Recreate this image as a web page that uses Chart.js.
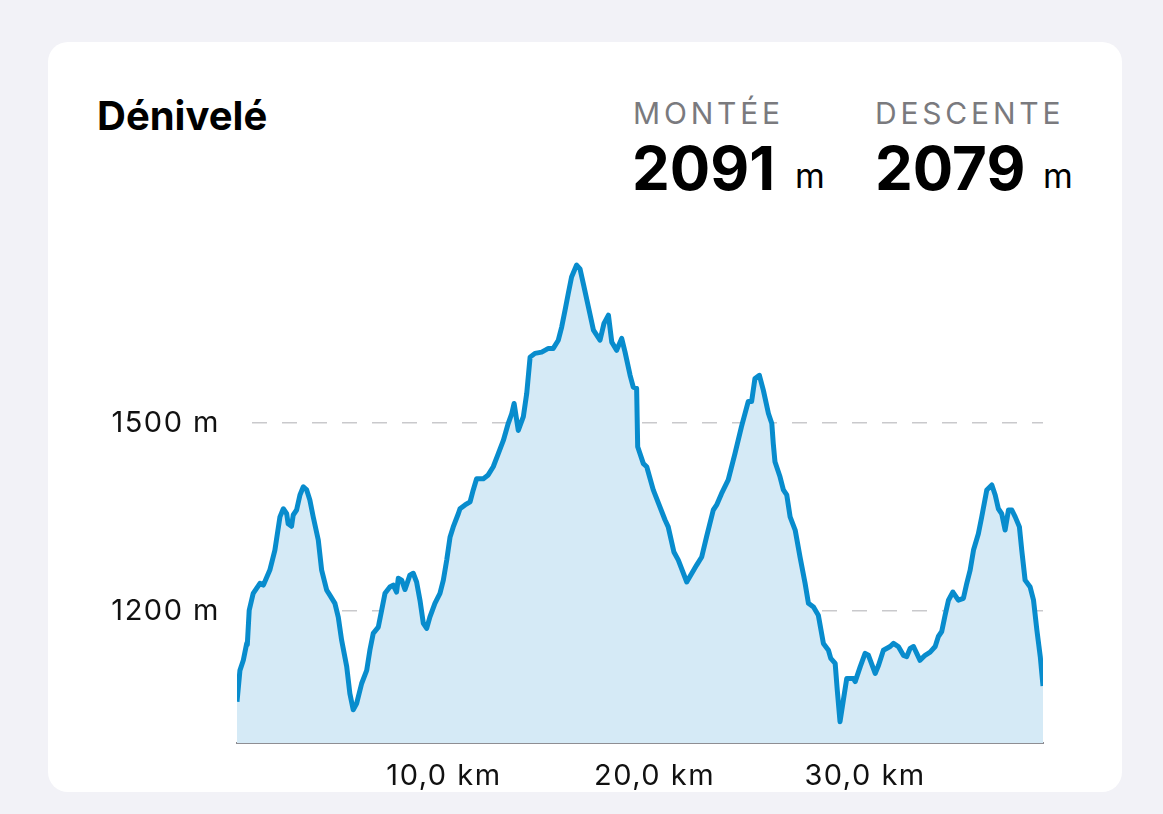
<!DOCTYPE html>
<html>
<head>
<meta charset="utf-8">
<script src="https://cdn.jsdelivr.net/npm/chart.js@4.4.1/dist/chart.umd.min.js"></script>
<style>
  html, body { margin: 0; padding: 0; }
  body { width: 1163px; height: 814px; background: #f2f2f7; position: relative; overflow: hidden; font-family: Inter, "Noto Sans", sans-serif; }
  #card { position: absolute; left: 48px; top: 42px; width: 1074px; height: 750px; background: #fff; border-radius: 20px; }
  .txt { position: absolute; line-height: 1; white-space: nowrap; }
  #title { left: 97px; top: 95.5px; font-size: 40px; font-weight: 700; color: #000; }
  .lab { font-size: 30px; color: #7a7a7e; top: 98px; letter-spacing: 3.8px; }
  .num { font-size: 60px; font-weight: 700; color: #000; top: 138px; }
  .unit { font-size: 34px; color: #000; top: 159px; }
  #chart { position: absolute; left: 0; top: 0; }
</style>
</head>
<body>
<div id="card"></div>
<div class="txt" id="title">Dénivelé</div>
<div class="txt lab" style="left:633px">MONTÉE</div>
<div class="txt num" style="left:632px">2091</div>
<div class="txt unit" style="left:795px">m</div>
<div class="txt lab" style="left:875px">DESCENTE</div>
<div class="txt num" style="left:875px">2079</div>
<div class="txt unit" style="left:1043px">m</div>
<canvas id="chart" width="1163" height="814"></canvas>
<script>
// profil altimétrique : distance (km) et altitude (m)
const distanceKm = [0.17, 0.31, 0.47, 0.63, 0.66, 0.75, 0.94, 1.26, 1.42, 1.73, 1.97, 2.21, 2.37, 2.53, 2.60, 2.76, 2.84, 3.00, 3.16, 3.32, 3.48, 3.63, 3.79, 4.03, 4.19, 4.43, 4.58, 4.82, 4.98, 5.14, 5.38, 5.53, 5.69, 5.85, 6.09, 6.33, 6.48, 6.64, 6.88, 7.04, 7.20, 7.43, 7.59, 7.75, 7.83, 7.99, 8.15, 8.38, 8.54, 8.70, 8.86, 9.02, 9.18, 9.33, 9.57, 9.81, 9.97, 10.13, 10.29, 10.44, 10.68, 10.76, 11.00, 11.24, 11.39, 11.55, 11.87, 12.10, 12.34, 12.58, 12.82, 13.05, 13.22, 13.33, 13.53, 13.77, 13.93, 14.09, 14.32, 14.64, 14.96, 15.19, 15.43, 15.59, 15.75, 15.90, 16.06, 16.30, 16.46, 16.62, 16.86, 17.10, 17.41, 17.60, 17.81, 17.97, 18.20, 18.44, 18.60, 18.84, 18.99, 19.15, 19.20, 19.47, 19.63, 19.94, 20.50, 20.65, 20.92, 21.13, 21.53, 22.00, 22.24, 22.47, 22.79, 22.95, 23.18, 23.50, 23.82, 24.13, 24.45, 24.61, 24.77, 24.98, 25.17, 25.41, 25.57, 25.64, 25.72, 25.96, 26.12, 26.28, 26.44, 26.68, 26.91, 27.15, 27.31, 27.55, 27.78, 28.02, 28.26, 28.37, 28.58, 28.68, 28.81, 28.97, 29.13, 29.45, 29.53, 29.77, 30.00, 30.16, 30.48, 30.64, 30.87, 31.19, 31.35, 31.58, 31.82, 31.98, 32.14, 32.30, 32.61, 32.85, 33.09, 33.33, 33.48, 33.64, 33.80, 33.96, 34.17, 34.43, 34.67, 34.83, 34.99, 35.15, 35.38, 35.54, 35.78, 36.02, 36.18, 36.33, 36.49, 36.65, 36.81, 36.97, 37.13, 37.33, 37.44, 37.60, 37.84, 38.00, 38.16, 38.32, 38.45];
const elevationM = [1055, 1105, 1121, 1148, 1146, 1201, 1228, 1244, 1241, 1265, 1297, 1350, 1363, 1355, 1339, 1335, 1353, 1361, 1385, 1398, 1393, 1377, 1350, 1313, 1265, 1233, 1225, 1212, 1190, 1153, 1111, 1068, 1042, 1052, 1084, 1105, 1137, 1164, 1174, 1201, 1228, 1238, 1241, 1230, 1252, 1249, 1234, 1257, 1260, 1246, 1217, 1180, 1172, 1190, 1212, 1228, 1249, 1281, 1318, 1334, 1355, 1363, 1369, 1374, 1393, 1411, 1411, 1417, 1430, 1451, 1472, 1499, 1515, 1531, 1488, 1510, 1547, 1605, 1611, 1613, 1619, 1619, 1632, 1653, 1680, 1706, 1733, 1752, 1746, 1722, 1685, 1648, 1632, 1659, 1672, 1629, 1616, 1635, 1613, 1576, 1557, 1555, 1462, 1435, 1430, 1393, 1345, 1334, 1294, 1281, 1246, 1273, 1286, 1318, 1361, 1369, 1387, 1409, 1451, 1494, 1534, 1534, 1571, 1576, 1552, 1515, 1499, 1467, 1438, 1414, 1393, 1385, 1350, 1329, 1286, 1244, 1212, 1206, 1193, 1148, 1137, 1124, 1116, 1073, 1023, 1058, 1092, 1092, 1087, 1111, 1132, 1129, 1100, 1113, 1137, 1143, 1148, 1143, 1129, 1127, 1140, 1143, 1121, 1129, 1134, 1143, 1159, 1167, 1193, 1217, 1230, 1217, 1220, 1244, 1265, 1297, 1323, 1350, 1393, 1401, 1385, 1363, 1355, 1329, 1361, 1361, 1350, 1334, 1297, 1249, 1238, 1217, 1169, 1127, 1080];
const kmTicks = [10, 20, 30];
const altTicks = [1200, 1500];

const points = distanceKm.map((d, i) => ({ x: d, y: elevationM[i] }));
const tickFont = { family: 'Inter', size: 29 };

// un peu d'interlettrage comme sur l'original
const spacing = {
  id: 'spacing',
  beforeDraw(chart) { chart.ctx.letterSpacing = '1.5px'; }
};

new Chart(document.getElementById('chart'), {
  type: 'line',
  data: {
    datasets: [{
      data: points,
      borderColor: '#088ccd',
      backgroundColor: '#d5eaf6',
      borderWidth: 5,
      borderJoinStyle: 'round',
      fill: 'start',
      tension: 0,
      pointRadius: 0
    }]
  },
  plugins: [spacing],
  options: {
    responsive: false,
    devicePixelRatio: 1,
    animation: false,
    layout: { padding: { left: 100, right: 120, top: 235, bottom: 21 } },
    plugins: { legend: { display: false }, tooltip: { enabled: false } },
    scales: {
      x: {
        type: 'linear',
        min: 0.17,
        max: 38.45,
        afterFit: (s) => { s.height = 50; },
        afterBuildTicks: (s) => { s.ticks = kmTicks.map(v => ({ value: v })); },
        grid: { display: false, drawTicks: false },
        border: { display: true, color: '#8e8e93', width: 2 },
        ticks: {
          color: '#111',
          font: tickFont,
          padding: 16,
          maxRotation: 0,
          callback: (v) => v.toFixed(1).replace('.', ',') + ' km'
        }
      },
      y: {
        min: 989,
        max: 1800,
        afterFit: (s) => { s.width = 137; },
        afterBuildTicks: (s) => { s.ticks = altTicks.map(v => ({ value: v })); },
        grid: { color: '#c9c9cc', lineWidth: 1.5, drawTicks: false },
        border: { display: false, dash: [15, 15], dashOffset: 15 },
        ticks: {
          color: '#111',
          font: tickFont,
          padding: 17,
          callback: (v) => v + ' m'
        }
      }
    }
  }
});
</script>
</body>
</html>
